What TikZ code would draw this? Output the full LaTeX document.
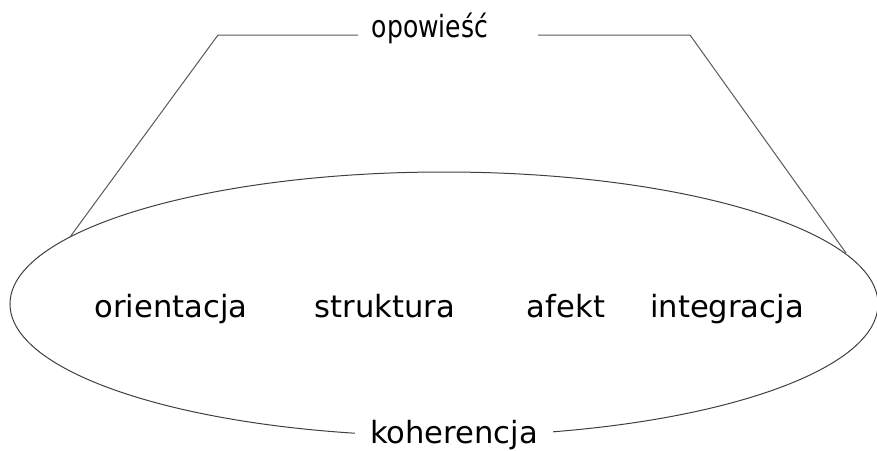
\documentclass[tikz,border=0pt]{standalone}
\usepackage{fontspec}
\usepackage{graphicx}
\setmainfont{DejaVu Sans}
\begin{document}
\begin{tikzpicture}[x=1pt,y=-1pt,
  lbl/.style={anchor=base,inner sep=0pt,font=\fontsize{30.6}{36}\selectfont,text=black},
  edge/.style={draw=black!65,line width=1pt},
  ring/.style={draw=black!75,line width=1pt}]
\useasboundingbox (0,0) rectangle (877,450);
\draw[ring] (444,304) ellipse [x radius=434, y radius=132];
\node[lbl] (ori) at (171,317) {orientacja};
\node[lbl] (str) at (385,317) {struktura};
\node[lbl] (afe) at (566,317) {afekt};
\node[lbl] (int) at (727,317) {integracja};
\node[lbl,fill=white,inner xsep=15pt,inner ysep=2pt] (koh) at (454,443) {koherencja};
\node[lbl] (opo) at (430,37) {\scalebox{0.82}[1]{opowieść}};
\coordinate (l1) at (70,237);
\coordinate (l2) at (218,35);
\coordinate (l3) at (358,35);
\coordinate (r1) at (538,35);
\coordinate (r2) at (690,35);
\coordinate (r3) at (846,253);
\draw[edge] (l1) -- (l2) -- (l3);
\draw[edge] (r1) -- (r2) -- (r3);
\end{tikzpicture}
\end{document}
